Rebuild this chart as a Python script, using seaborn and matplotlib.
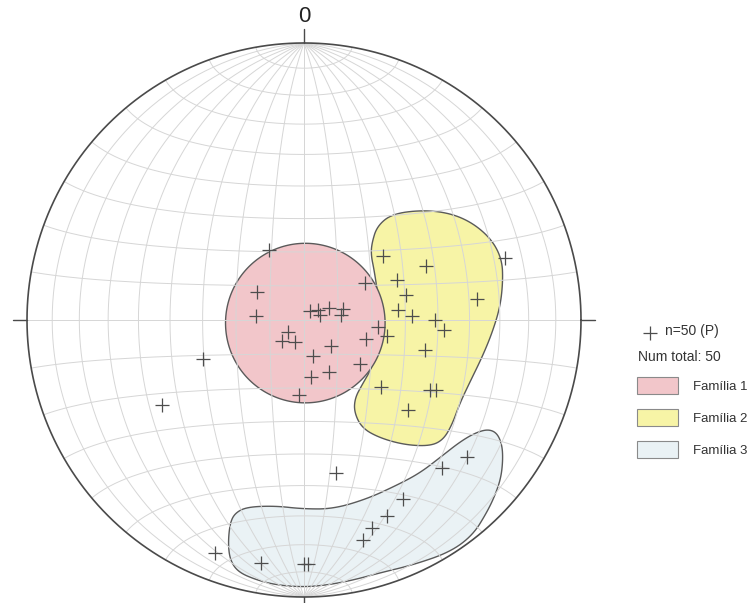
import numpy as np
import pandas as pd
import seaborn as sns
import matplotlib
matplotlib.use("Agg")
import matplotlib.pyplot as plt
from matplotlib.patches import Rectangle

# Polos (P) - trend / plunge em graus
trend = [333, 301, 275, 34, 54, 74, 65, 82, 74, 59,
         95, 101, 233, 226, 201, 107, 133, 166, 128, 154,
         173, 184, 249, 51, 66, 67, 76, 84, 88, 90,
         94, 104, 131, 119, 118, 131, 83, 73, 168, 130,
         137, 151, 157, 162, 165, 201, 190, 180, 179, 239]
plunge = [67, 74, 76, 87, 85, 85, 82, 79, 78, 69,
          68, 65, 84, 81, 83, 71, 79, 79, 69, 73,
          73, 68, 58, 60, 50, 60, 59, 62, 58, 51,
          48, 53, 60, 47, 45, 49, 37, 25, 43, 24,
          28, 27, 24, 22, 19, 11, 12, 13, 13, 40]

# Família 1: cone (eixo trend/plunge, semi-abertura)
fam1_axis = (157, 89)
fam1_angle = 23.5

# Família 2 e 3: contornos na rede (unidades do raio)
fam2_x = [0.245, 0.264, 0.318, 0.426, 0.527, 0.610, 0.679, 0.715, 0.718, 0.708,
          0.679, 0.643, 0.599, 0.563, 0.534, 0.502, 0.455, 0.365, 0.274, 0.209,
          0.181, 0.184, 0.209, 0.245, 0.267, 0.274, 0.267, 0.253, 0.242]
fam2_y = [0.278, 0.339, 0.383, 0.397, 0.386, 0.350, 0.289, 0.217, 0.137, 0.047,
          -0.047, -0.134, -0.224, -0.300, -0.379, -0.433, -0.455, -0.451, -0.426, -0.390,
          -0.332, -0.282, -0.235, -0.173, -0.090, 0.0, 0.090, 0.181, 0.235]
fam3_x = [-0.249, -0.206, -0.105, -0.004, 0.105, 0.227, 0.336, 0.419, 0.498, 0.563,
          0.617, 0.664, 0.697, 0.715, 0.718, 0.711, 0.690, 0.661, 0.610, 0.527,
          0.394, 0.274, 0.177, 0.083, -0.004, -0.097, -0.170, -0.238, -0.267, -0.274,
          -0.267]
fam3_y = [-0.697, -0.675, -0.671, -0.682, -0.682, -0.646, -0.596, -0.552, -0.491, -0.440,
          -0.408, -0.394, -0.408, -0.451, -0.505, -0.570, -0.632, -0.693, -0.776, -0.838,
          -0.884, -0.913, -0.939, -0.957, -0.964, -0.957, -0.939, -0.910, -0.866, -0.805,
          -0.733]

familias = ["Família 1", "Família 2", "Família 3"]
cores = ["#f2c6ca", "#f7f4a6", "#eaf2f5"]


def proj_vec(e, n, d):
    # Schmidt (igual área), hemisfério inferior
    k = 1.0 / np.sqrt(1.0 + d)
    return e * k, n * k


def proj_line(tr, pl):
    tr = np.radians(tr)
    pl = np.radians(pl)
    e = np.cos(pl) * np.sin(tr)
    n = np.cos(pl) * np.cos(tr)
    d = np.sin(pl)
    return proj_vec(e, n, d)


def chaikin(x, y, it=3):
    pts = np.column_stack([x, y])
    for _ in range(it):
        nxt = np.roll(pts, -1, axis=0)
        q = 0.75 * pts + 0.25 * nxt
        r = 0.25 * pts + 0.75 * nxt
        pts = np.empty((2 * len(q), 2))
        pts[0::2] = q
        pts[1::2] = r
    return pts[:, 0], pts[:, 1]


sns.set_style("white")
plt.rcParams["font.family"] = ["Liberation Sans", "DejaVu Sans"]

W, H = 751, 603
cx, cy, R = 304, 320, 277
fig = plt.figure(figsize=(W / 100, H / 100), dpi=100)
ax = fig.add_axes([0, 0, 1, 1])
ax.set_xlim((0 - cx) / R, (W - cx) / R)
ax.set_ylim((cy - H) / R, cy / R)
ax.axis("off")

# regioes das familias
x2, y2 = chaikin(fam2_x, fam2_y)
ax.fill(x2, y2, facecolor=cores[1], edgecolor="#5a5a5a", lw=1.0, zorder=1)

a = np.radians(fam1_axis[0]), np.radians(fam1_axis[1])
av = np.array([np.cos(a[1]) * np.sin(a[0]), np.cos(a[1]) * np.cos(a[0]), np.sin(a[1])])
u = np.cross(av, [0, 0, 1.0])
u /= np.linalg.norm(u)
w = np.cross(av, u)
phi = np.linspace(0, 2 * np.pi, 361)
ang = np.radians(fam1_angle)
v = np.cos(ang) * av[:, None] + np.sin(ang) * (np.outer(u, np.cos(phi)) + np.outer(w, np.sin(phi)))
x1, y1 = proj_vec(v[0], v[1], v[2])
ax.fill(x1, y1, facecolor=cores[0], edgecolor="#5a5a5a", lw=1.0, zorder=1.5)

x3, y3 = chaikin(fam3_x, fam3_y)
ax.fill(x3, y3, facecolor=cores[2], edgecolor="#5a5a5a", lw=1.0, zorder=1)

# rede de Schmidt 10 graus
gcol = "#d6d6d6"
t = np.linspace(0, np.pi, 181)
for dip in range(10, 91, 10):
    dd = np.radians(dip)
    for sgn in (1, -1):
        gx, gy = proj_vec(sgn * np.cos(dd) * np.sin(t), np.cos(t), np.sin(dd) * np.sin(t))
        ax.plot(gx, gy, color=gcol, lw=0.7, zorder=2)
for cone in range(10, 171, 10):
    cc = np.radians(cone)
    gx, gy = proj_vec(np.sin(cc) * np.cos(t), np.full_like(t, np.cos(cc)), np.sin(cc) * np.sin(t))
    ax.plot(gx, gy, color=gcol, lw=0.7, zorder=2)

# circulo primitivo e marcas
th = np.linspace(0, 2 * np.pi, 721)
ax.plot(np.cos(th), np.sin(th), color="#4a4a4a", lw=1.2, zorder=4)
tk = 14 / R
for dx, dy in [(0, 1), (1, 0), (0, -1), (-1, 0)]:
    ax.plot([dx, dx * (1 + tk)], [dy, dy * (1 + tk)], color="#4a4a4a", lw=1.0, zorder=4)
ax.text(0, (cy - 16) / R, "0", ha="center", va="center", fontsize=16, color="#222222")

# polos
px, py = proj_line(np.array(trend), np.array(plunge))
df = pd.DataFrame({"x": px, "y": py})
sns.scatterplot(data=df, x="x", y="y", marker="+", s=95, color="#4d4d4d",
                linewidth=0.9, ax=ax, zorder=5, legend=False)
ax.set_xlim((0 - cx) / R, (W - cx) / R)
ax.set_ylim((cy - H) / R, cy / R)

# legenda
ax.scatter([(650 - cx) / R], [(cy - 333) / R], marker="+", s=95, color="#4d4d4d",
           linewidths=0.9, zorder=5)
fig.text(665 / W, 1 - 331 / H, "n=50 (P)", fontsize=10, color="#333333", va="center")
fig.text(638 / W, 1 - 357 / H, "Num total: 50", fontsize=10, color="#333333", va="center")
for i, (nome, cor) in enumerate(zip(familias, cores)):
    top = 377 + i * 32
    fig.patches.append(Rectangle((637 / W, 1 - (top + 17) / H), 41 / W, 17 / H,
                                 transform=fig.transFigure, facecolor=cor,
                                 edgecolor="#8a8a8a", lw=0.8))
    fig.text(693 / W, 1 - (top + 10) / H, nome, fontsize=9.5, color="#333333", va="center")

fig.savefig("out.png", dpi=100)
